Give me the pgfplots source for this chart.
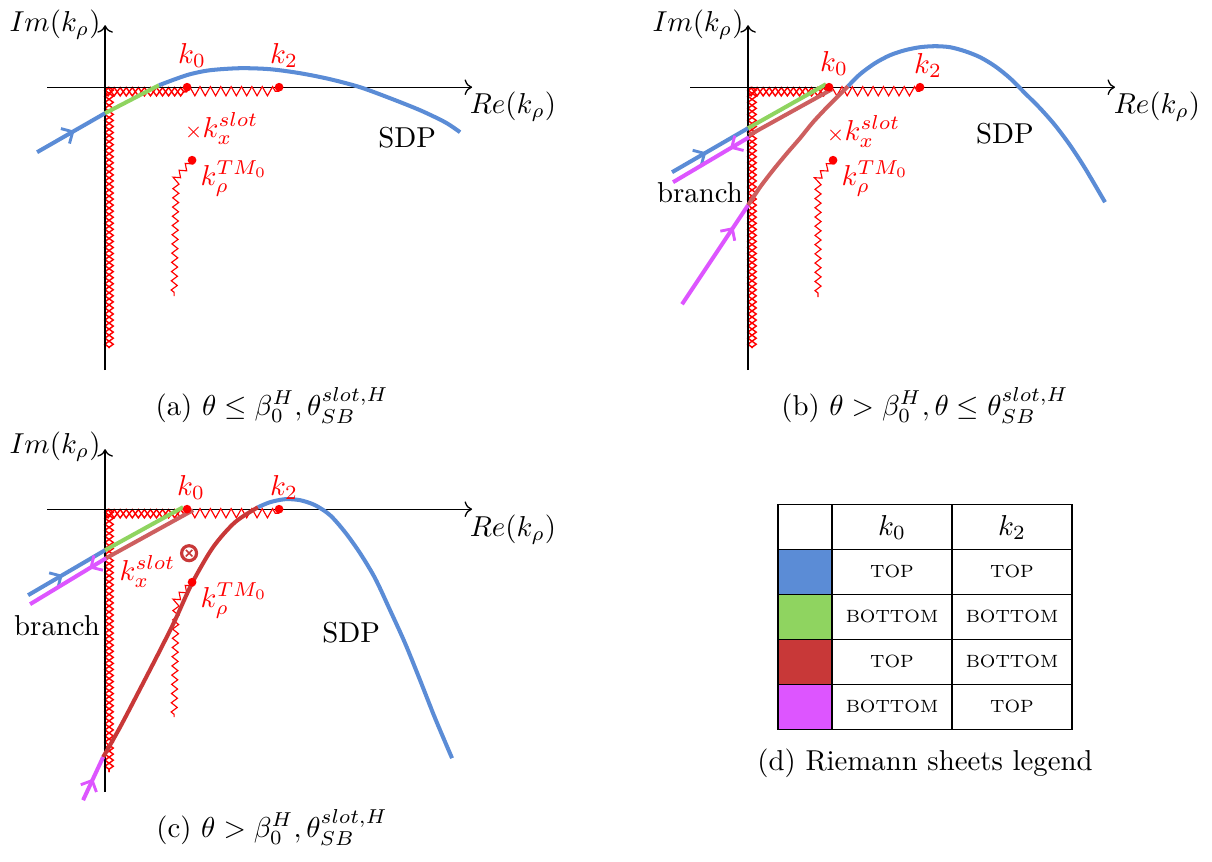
\documentclass[border=0pt]{standalone}
\usepackage{graphicx}
\usepackage{pgfplots}
\pgfplotsset{compat=1.18}
\usetikzlibrary{decorations.pathmorphing,decorations.markings,arrows.meta}
\definecolor{sblue}{RGB}{91,140,214}
\definecolor{sgreen}{RGB}{143,212,96}
\definecolor{sred}{RGB}{200,56,56}
\definecolor{lred}{RGB}{205,95,95}
\definecolor{smag}{RGB}{221,85,255}
\newcommand{\cell}[1]{\scalebox{0.88}{\scriptsize #1}}
\tikzset{
  zz/.style={red, line width=0.4pt, decorate, decoration={zigzag, segment length=3.6pt, amplitude=1.6pt}},
  hatchA/.style={red, line width=0.5pt, decorate, decoration={zigzag, segment length=4.2pt, amplitude=1.45pt}},
  hatchB/.style={red, line width=0.5pt, decorate, decoration={zigzag, segment length=4.2pt, amplitude=1.45pt, mirror}},
  tmz/.style={red, line width=0.4pt, decorate, decoration={zigzag, segment length=3.2pt, amplitude=1.05pt}},
  crv/.style={line width=1.4pt},
  fwd/.style={postaction={decorate}, decoration={markings, mark=at position #1 with {\arrow{Straight Barb[length=3pt,width=6pt,line width=1pt]}}}},
  bwd/.style={postaction={decorate}, decoration={markings, mark=at position #1 with {\arrowreversed{Straight Barb[length=3pt,width=6pt,line width=1pt]}}}},
  ax/.style={black, line width=0.45pt, ->},
  lbl/.style={text=red},
}
\begin{document}
\begin{tikzpicture}
\begin{axis}[width=420.83pt, height=298.96pt, scale only axis,
  xmin=0, xmax=1212, ymin=0, ymax=861, y dir=reverse,
  hide axis, clip=false]
\addplot[draw=none] coordinates {(0,0)(1212,861)};

% ---------------- panel (a) ----------------
\addplot[hatchA] coordinates {(105,91.5)(187,91.5)};
\addplot[hatchB] coordinates {(105,91.5)(187,91.5)};
\addplot[hatchA] coordinates {(109,87)(109,348)};
\addplot[hatchB] coordinates {(109,87)(109,348)};
\addplot[ax] coordinates {(47,87)(472,87)};
\addplot[ax] coordinates {(105,370)(105,25)};
\addplot[zz] coordinates {(187,91)(279,91)};
\addplot[tmz] coordinates {(192,160)(176,178)(174,296)};
\addplot[crv, sblue, fwd=0.55] coordinates {(37,152)(105,113)};
\addplot[crv, sgreen] coordinates {(105,113)(159,85)};
\addplot[crv, sblue, smooth] coordinates {(159,85)(175,79)(190,74)(210,70)(240,68)(270,69)(300,73)(330,79)(360,87)(390,98)(420,110)(445,122)(460,132)};
\addplot[only marks, mark=*, mark size=1.3pt, red] coordinates {(187,87)(279,87)(192,160)};
\node[anchor=base] at (55,31) {$Im(k_\rho)$};
\node[anchor=base] at (513,113) {$Re(k_\rho)$};
\node[anchor=base, lbl] at (192,63) {$k_0$};
\node[anchor=base, lbl] at (284,63) {$k_2$};
\node[anchor=base west, lbl, inner sep=0pt] at (184,137) {${\scriptstyle\times}k_x^{slot}$};
\node[anchor=base west, lbl, inner sep=0pt] at (200,185) {$k_\rho^{TM_0}$};
\node[anchor=base] at (407,147) {SDP};
\node[anchor=base] at (272,415) {(a) $\theta \le \beta_0^H, \theta_{SB}^{slot,H}$};

% ---------------- panel (b) ----------------
\addplot[hatchA] coordinates {(748,91.5)(829,91.5)};
\addplot[hatchB] coordinates {(748,91.5)(829,91.5)};
\addplot[hatchA] coordinates {(752,87)(752,348)};
\addplot[hatchB] coordinates {(752,87)(752,348)};
\addplot[ax] coordinates {(690,87)(1115,87)};
\addplot[ax] coordinates {(748,370)(748,25)};
\addplot[zz] coordinates {(829,91)(920,91)};
\addplot[tmz] coordinates {(833,160)(818,178)(818,297)};
\addplot[crv, sblue, fwd=0.45] coordinates {(672,172)(748,128)};
\addplot[crv, sgreen] coordinates {(748,128)(826,84)};
\addplot[crv, lred] coordinates {(749,135)(832,89)};
\addplot[crv, smag, bwd=0.75] coordinates {(673,182)(749,137)};
\addplot[crv, lred, smooth] coordinates {(748,205)(760,187)(773,170)(787,153)(800,138)(813,122)(827,107)(838,96)(848,86)};
\addplot[crv, sblue, smooth] coordinates {(848,86)(860,74)(875,63)(890,55)(905,50)(920,47)(935,46)(950,47)(965,51)(980,57)(995,66)(1010,78)(1025,93)(1040,108)(1055,125)(1070,145)(1085,168)(1105,202)};
\addplot[crv, smag, fwd=0.78] coordinates {(682,304)(748,205)};
\addplot[only marks, mark=*, mark size=1.3pt, red] coordinates {(829,87)(920,87)(833,160)};
\node[anchor=base] at (698,31) {$Im(k_\rho)$};
\node[anchor=base] at (1157,113) {$Re(k_\rho)$};
\node[anchor=base, lbl] at (834,71) {$k_0$};
\node[anchor=base, lbl] at (928,73) {$k_2$};
\node[anchor=base west, lbl, inner sep=0pt] at (826,140) {${\scriptstyle\times}k_x^{slot}$};
\node[anchor=base west, lbl, inner sep=0pt] at (841,185) {$k_\rho^{TM_0}$};
\node[anchor=base] at (1005,143) {SDP};
\node[anchor=base] at (700,202) {branch};
\node[anchor=base] at (925,415) {(b) $\theta > \beta_0^H, \theta \le \theta_{SB}^{slot,H}$};

% ---------------- panel (c) ----------------
\addplot[hatchA] coordinates {(105,513.5)(187,513.5)};
\addplot[hatchB] coordinates {(105,513.5)(187,513.5)};
\addplot[hatchA] coordinates {(109,509)(109,772)};
\addplot[hatchB] coordinates {(109,509)(109,772)};
\addplot[ax] coordinates {(47,509)(472,509)};
\addplot[ax] coordinates {(105,792)(105,449)};
\addplot[zz] coordinates {(187,513)(279,513)};
\addplot[tmz] coordinates {(192,582)(176,600)(174,717)};
\addplot[crv, sblue, fwd=0.45] coordinates {(28,595)(105,550)};
\addplot[crv, sgreen] coordinates {(105,550)(183,507)};
\addplot[crv, lred] coordinates {(106,558)(193,510)};
\addplot[crv, smag, bwd=0.78] coordinates {(30,604)(106,558)};
\addplot[crv, sred, smooth] coordinates {(103,757)(120,727)(143,683)(160,650)(175,620)(192,583)(213,547)(235,522)(258,507)};
\addplot[crv, sblue, smooth] coordinates {(258,507)(270,502)(285,499)(300,500)(315,505)(330,515)(345,532)(360,553)(375,578)(390,610)(405,643)(420,680)(435,718)(452,758)};
\addplot[crv, smag, fwd=0.5] coordinates {(83,800)(103,757)};
\addplot[only marks, mark=*, mark size=1.3pt, red] coordinates {(187,509)(279,509)(192,582)};
\addplot[only marks, mark=o, mark size=2.6pt, line width=1.1pt, sred] coordinates {(189,553)};
\addplot[only marks, mark=x, mark size=1.6pt, line width=0.55pt, sred] coordinates {(189,553)};
\node[anchor=base] at (55,453) {$Im(k_\rho)$};
\node[anchor=base] at (513,536) {$Re(k_\rho)$};
\node[anchor=base, lbl] at (191,495) {$k_0$};
\node[anchor=base, lbl] at (284,495) {$k_2$};
\node[anchor=base west, lbl, inner sep=0pt] at (119,580) {$k_x^{slot}$};
\node[anchor=base west, lbl, inner sep=0pt] at (200,607) {$k_\rho^{TM_0}$};
\node[anchor=base] at (351,642) {SDP};
\node[anchor=base] at (57,635) {branch};
\node[anchor=base] at (272,837) {(c) $\theta > \beta_0^H, \theta_{SB}^{slot,H}$};

% ---------------- panel (d): legend table ----------------
\addplot[fill=sblue, draw=none] coordinates {(778,549)(832,549)(832,594)(778,594)} -- cycle;
\addplot[fill=sgreen, draw=none] coordinates {(778,594)(832,594)(832,639)(778,639)} -- cycle;
\addplot[fill=sred, draw=none] coordinates {(778,639)(832,639)(832,684)(778,684)} -- cycle;
\addplot[fill=smag, draw=none] coordinates {(778,684)(832,684)(832,729)(778,729)} -- cycle;
\addplot[black, line width=0.45pt] coordinates {(778,504)(1072,504)(1072,729)(778,729)} -- cycle;
\addplot[black, line width=0.45pt] coordinates {(832,504)(832,729)};
\addplot[black, line width=0.45pt] coordinates {(952,504)(952,729)};
\addplot[black, line width=0.45pt] coordinates {(778,549)(1072,549)};
\addplot[black, line width=0.45pt] coordinates {(778,594)(1072,594)};
\addplot[black, line width=0.45pt] coordinates {(778,639)(1072,639)};
\addplot[black, line width=0.45pt] coordinates {(778,684)(1072,684)};
\node at (892,527) {$k_0$};
\node at (1012,527) {$k_2$};
\node at (892,571.5) {\cell{TOP}};
\node at (1012,571.5) {\cell{TOP}};
\node at (892,616.5) {\cell{BOTTOM}};
\node at (1012,616.5) {\cell{BOTTOM}};
\node at (892,661.5) {\cell{TOP}};
\node at (1012,661.5) {\cell{BOTTOM}};
\node at (892,706.5) {\cell{BOTTOM}};
\node at (1012,706.5) {\cell{TOP}};
\node[anchor=base] at (925,770) {(d) Riemann sheets legend};
\end{axis}
\end{tikzpicture}
\end{document}
